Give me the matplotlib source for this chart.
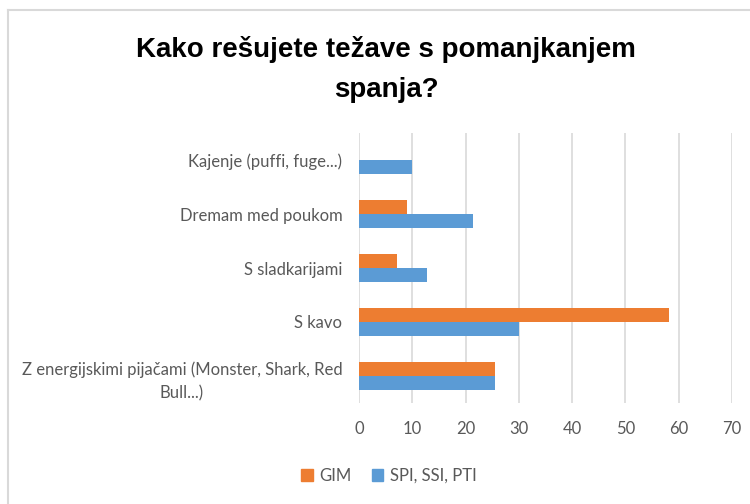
import matplotlib.pyplot as plt
import numpy as np
from matplotlib.lines import Line2D
from matplotlib.patches import Patch

categories = [
	"Kajenje (puffi, fuge...)",
	"Dremam med poukom",
	"S sladkarijami",
	"S kavo",
	"Z energijskimi pijačami (Monster, Shark, Red\nBull...)",
]
gim = [0, 9.0, 7.1, 58.2, 25.5]
spi = [10.0, 21.4, 12.8, 30.1, 25.5]
x_ticks = [0, 10, 20, 30, 40, 50, 60, 70]
title_lines = ["Kako rešujete težave s pomanjkanjem", "spanja?"]

orange = '#ED7D31'
blue = '#5B9BD5'
text_gray = '#595959'
grid_gray = '#D9D9D9'

fig = plt.figure(figsize=(7.5, 5.04), dpi=100)
ax = fig.add_axes([359/750, 1 - 403/504, (732 - 359)/750, (403 - 133)/504])

y = np.arange(len(categories))
h = 0.26
ax.barh(y - h/2, gim, height=h, color=orange, label='GIM')
ax.barh(y + h/2, spi, height=h, color=blue, label='SPI, SSI, PTI')

ax.set_ylim(len(categories) - 0.5, -0.5)
ax.set_xlim(0, 70)
ax.set_xticks(x_ticks)
ax.set_yticks(y)
ax.set_yticklabels(categories, multialignment='center', linespacing=1.55)
ax.tick_params(length=0, colors=text_gray)
ax.tick_params(axis='y', pad=12)
ax.tick_params(axis='x', pad=13)
for lbl in ax.get_xticklabels() + ax.get_yticklabels():
	lbl.set_fontfamily('Lato')
	lbl.set_fontsize(12)
ax.xaxis.grid(True, color=grid_gray, linewidth=1.2)
ax.set_axisbelow(True)
for s in ax.spines.values():
	s.set_visible(False)

# title, two lines placed on their baselines
for line, base in zip(title_lines, [57, 97]):
	fig.text(386/750, 1 - base/504, line, ha='center', va='baseline',
		fontsize=20, fontweight='bold', family='Liberation Sans')

handles = [Patch(color=orange), Patch(color=blue)]
fig.legend(handles, ['GIM', 'SPI, SSI, PTI'], loc='center', bbox_to_anchor=(389/750, 1 - 476/504),
	ncol=2, frameon=False, handlelength=0.7, handleheight=0.7, handletextpad=0.4,
	columnspacing=1.2, prop={'family': 'Lato', 'size': 12}, labelcolor=text_gray)

# chart border
fig.add_artist(Line2D([8/750, 1], [1 - 10/504, 1 - 10/504], color=grid_gray, linewidth=1.5))
fig.add_artist(Line2D([8/750, 8/750], [0, 1 - 10/504], color=grid_gray, linewidth=1.5))

fig.savefig('out.png', dpi=100)
